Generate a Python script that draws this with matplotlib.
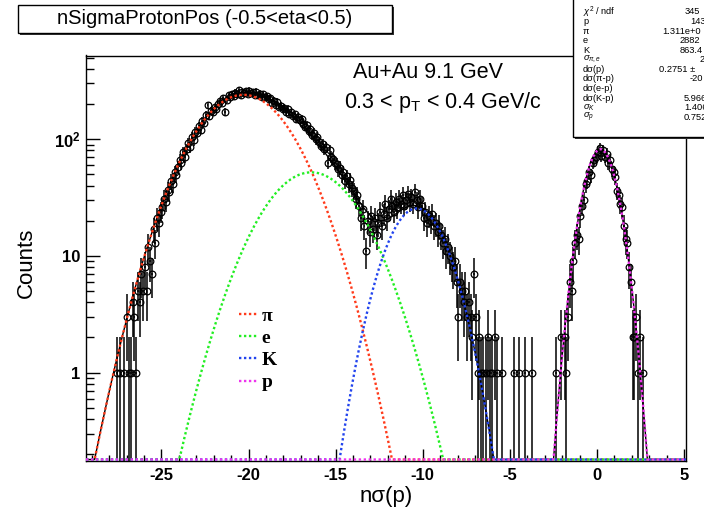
import numpy as np
import matplotlib.pyplot as plt
from matplotlib.patches import Rectangle
from matplotlib.ticker import FixedLocator, LogLocator, MultipleLocator, NullFormatter

plt.rcParams['font.family'] = ['Liberation Sans', 'DejaVu Sans']
plt.rcParams['mathtext.fontset'] = 'custom'
plt.rcParams['mathtext.rm'] = 'Liberation Sans'
plt.rcParams['mathtext.it'] = 'Liberation Sans:italic'
plt.rcParams['mathtext.bf'] = 'Liberation Sans:bold'
plt.rcParams['axes.unicode_minus'] = False

# histogram of nSigma(p), 0.1 wide bins, first low edge at -27.6
bin_lo = -27.6
bin_w = 0.1
counts = [
    1, 0, 1, 0, 1, 0,                                  # -27.6 .. -27.0
    3, 1, 1, 4, 3, 1, 5, 4, 7, 5,                      # -27
    8, 5, 12, 9, 7, 17, 13, 21, 19, 24,                # -26
    26, 31, 29, 37, 35, 44, 41, 52, 49, 58,            # -25
    66, 62, 77, 71, 82, 93, 86, 104, 98, 116,          # -24
    112, 129, 121, 143, 138, 160, 196, 158, 176, 171,  # -23
    188, 180, 202, 212, 205, 224, 172, 218, 238, 229,  # -22
    242, 233, 251, 244, 262, 238, 255, 249, 258, 246,  # -21
    261, 247, 253, 240, 256, 238, 246, 231, 242, 228,  # -20
    233, 219, 226, 205, 214, 198, 209, 190, 194, 181,  # -19
    186, 172, 181, 165, 170, 158, 163, 149, 155, 147,  # -18
    150, 136, 128, 131, 118, 122, 109, 113, 100, 104,  # -17
    94, 88, 91, 82, 86, 63, 80, 71, 68, 62,            # -16
    61, 55, 57, 49, 52, 44, 48, 41, 45, 38,            # -15
    36, 31, 33, 27, 21, 25, 18, 11, 20, 16,            # -14
    22, 17, 21, 15, 19, 24, 18, 23, 28, 21,            # -13
    25, 31, 27, 24, 29, 26, 31, 28, 33, 27,            # -12
    30, 34, 29, 32, 28, 35, 30, 26, 31, 27,            # -11
    21, 24, 19, 22, 20, 23, 18, 19, 16, 18,            # -10
    15, 13, 14, 11, 12, 10, 9, 8, 9, 6,                # -9
    3, 6, 5, 4, 5, 3, 4, 3, 2, 7,                      # -8
    3, 1, 2, 1, 1, 0, 1, 2, 1, 1,                      # -7
    0, 2, 1, 0, 0, 1, 0, 0, 0, 0,                      # -6
    0, 0, 1, 0, 0, 1, 0, 0, 1, 0,                      # -5
    0, 0, 1, 0, 0, 0, 0, 0, 0, 0,                      # -4
    0, 0, 0, 0, 0, 0, 1, 0, 0, 2,                      # -3
    0, 2, 1, 3, 6, 5, 9, 13, 15, 14,                   # -2
    22, 27, 30, 41, 44, 52, 49, 63, 66, 71,            # -1
    78, 84, 72, 80, 71, 75, 62, 66, 55, 52,            # 0
    47, 36, 33, 28, 26, 18, 14, 13, 8, 6,              # 1
    2, 2, 3, 1, 2, 0, 1, 0, 0, 0,                      # 2
]

# gaussian fit components
species = ['π', 'e', 'K', 'p']
amp = [240, 52, 25.5, 82]
mean = [-20.3, -16.4, -10.35, 0.2]
sigma = [2.25, 2.25, 1.406, 0.77]
colors = ['#ff3a1a', '#22ee22', '#2244ee', '#ee33ee']

stat_names = [r'$\chi^2$ / ndf', 'p', 'π', 'e', 'K', r'$\sigma_{\pi,e}$', 'dσ(p)',
              'dσ(π-p)', 'dσ(e-p)', 'dσ(K-p)', r'$\sigma_K$', r'$\sigma_p$']
stat_values = ['345', '1434', '1.311e+0', '2882', '863.4', '2', '0.2751 ±',
               '-20', '', '5.966', '1.406', '0.752']
stat_value_x = [685, 690, 662, 680, 680, 700, 659, 690, 690, 684, 684, 684]

xmin, xmax = -29.33, 5.11
ymin, ymax = 0.175, 521

W, H = 704, 513
fig = plt.figure(figsize=(W / 100, H / 100), dpi=100)
ax = fig.add_axes([86 / W, 1 - 461 / H, 600 / W, 405.5 / H])

n = np.array(counts, dtype=float)
x = bin_lo + bin_w * (np.arange(len(n)) + 0.5)
keep = n > 0
xs, ns = x[keep], n[keep]
err = np.sqrt(ns)
lo = np.minimum(err, ns - 1e-4)
ax.errorbar(xs, ns, yerr=[lo, err], xerr=bin_w / 2, fmt='o', ms=4.8, mfc='none',
            mec='black', mew=0.9, ecolor='black', elinewidth=1.1, capsize=0, zorder=2)

xx = np.linspace(xmin, xmax, 2000)
comps = []
for a, m, s in zip(amp, mean, sigma):
    comps.append(a * np.exp(-0.5 * ((xx - m) / s) ** 2))
floor = ymin * 1.03
ax.plot(xx, np.maximum(sum(comps), floor), color='black', lw=1.0, zorder=3)
handles = []
for g, c in zip(comps, colors):
    h, = ax.plot(xx, np.maximum(g, floor), color=c, lw=1.7, ls=(0, (1, 1.1)), zorder=4)
    handles.append(h)

ax.set_xlim(xmin, xmax)
ax.set_yscale('log')
ax.set_ylim(ymin, ymax)
ax.xaxis.set_major_locator(MultipleLocator(5))
ax.xaxis.set_minor_locator(MultipleLocator(1))
ax.yaxis.set_major_locator(FixedLocator([1, 10, 100]))
ax.yaxis.set_major_formatter(plt.FixedFormatter(['1', '10', r'$\mathbf{10^{2}}$']))
ax.yaxis.set_minor_locator(LogLocator(base=10, subs=np.arange(2, 10)))
ax.yaxis.set_minor_formatter(NullFormatter())
ax.tick_params(which='both', direction='in', top=False, right=False, width=1.0)
ax.tick_params(axis='x', which='major', length=8.5, pad=5)
ax.tick_params(axis='x', which='minor', length=4.3)
ax.tick_params(axis='y', which='major', length=10, pad=4)
ax.tick_params(axis='y', which='minor', length=6)
for lab in ax.get_xticklabels() + ax.get_yticklabels():
    lab.set_fontweight('bold')
    lab.set_fontsize(12)
for sp in ax.spines.values():
    sp.set_linewidth(1.0)

ax.set_xlabel('nσ(p)', fontsize=16)
ax.xaxis.set_label_coords(0.5, -0.062)
ax.set_ylabel('Counts', fontsize=16)
ax.yaxis.set_label_coords(-0.082, 0.488)

ax.legend(handles, species, loc='upper left', bbox_to_anchor=(0.255, 0.38), frameon=False,
          prop=dict(family='Liberation Serif', weight='bold', size=14), handlelength=0.9,
          handletextpad=0.25, labelspacing=0.24, borderpad=0, borderaxespad=0)

fig.text(428 / W, 1 - 72 / H, 'Au+Au 9.1 GeV', fontsize=15.5, ha='center', va='center')
fig.text(443 / W, 1 - 103 / H, r'0.3 < p$_{\mathrm{T}}$ < 0.4 GeV/c', fontsize=15.5,
         ha='center', va='center')

# title box with shadow
fig.add_artist(Rectangle((20 / W, 1 - 35 / H), 374 / W, 28 / H, transform=fig.transFigure,
                         facecolor='#333333', edgecolor='none', zorder=5))
fig.add_artist(Rectangle((18 / W, 1 - 33 / H), 374 / W, 28 / H, transform=fig.transFigure,
                         facecolor='white', edgecolor='black', lw=1.0, zorder=6))
fig.text(205 / W, 1 - 19 / H, 'nSigmaProtonPos (-0.5<eta<0.5)', fontsize=14.5,
         ha='center', va='center', zorder=7)

# stats box (cut at the right edge)
fig.add_artist(Rectangle((575 / W, 1 - 139 / H), 140 / W, 145 / H, transform=fig.transFigure,
                         facecolor='#333333', edgecolor='none', zorder=5))
fig.add_artist(Rectangle((573 / W, 1 - 137 / H), 140 / W, 145 / H, transform=fig.transFigure,
                         facecolor='white', edgecolor='black', lw=1.0, zorder=6))
for i, (nm, val, vx) in enumerate(zip(stat_names, stat_values, stat_value_x)):
    yy = 1 - (12 + 9.57 * i) / H
    fig.text(583 / W, yy, nm, fontsize=6.7, ha='left', va='center', zorder=7)
    fig.text(vx / W, yy, val, fontsize=6.7, ha='left', va='center', zorder=7)

fig.savefig('out.png', dpi=100)
